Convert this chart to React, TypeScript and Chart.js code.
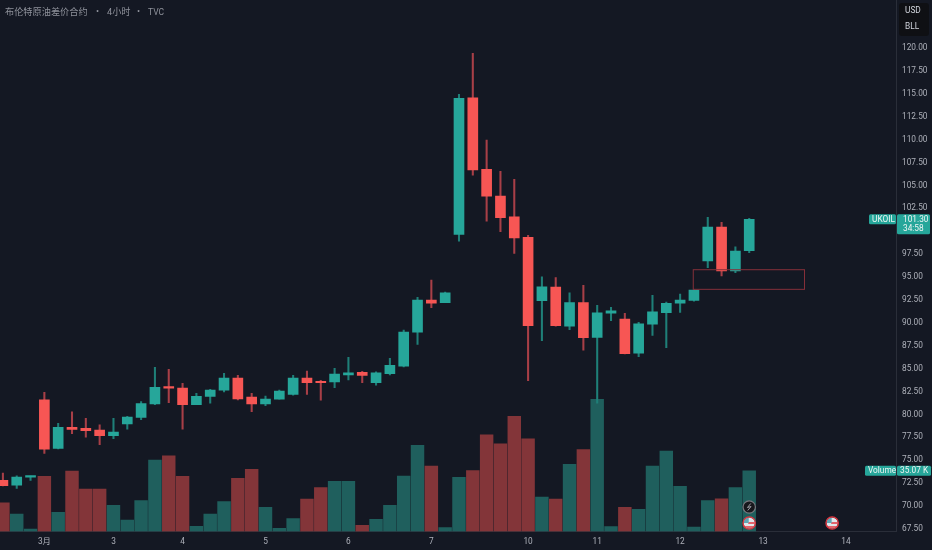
import React, { useEffect, useRef } from "react";
import { Chart, registerables } from "chart.js";

Chart.register(...registerables);

// Bars are numbered from the "3月" session; the first three sit before it.
const firstIndex = -3;
const opens = [72.81, 72.29, 73.17, 81.6, 76.3, 78.6, 78.48, 78.3, 77.68, 78.98, 79.68, 81.14, 82.96, 82.88, 81.06, 81.98, 82.66, 83.97, 81.9, 81.14, 81.68, 82.2, 83.97, 83.54, 83.54, 84.33, 84.6, 83.46, 84.45, 85.28, 88.99, 92.49, 92.2, 99.66, 114.57, 106.76, 103.84, 101.58, 99.33, 92.41, 93.91, 89.65, 92.2, 88.42, 91.07, 90.41, 86.7, 89.87, 91.1, 92.16, 92.46, 96.75, 100.46, 95.66, 97.87];
const closes = [72.22, 73.17, 73.28, 76.22, 78.6, 78.37, 78.22, 77.68, 78.08, 79.72, 81.2, 82.96, 82.88, 81.06, 81.98, 82.66, 83.97, 81.71, 81.14, 81.68, 82.55, 83.97, 83.46, 83.46, 84.41, 84.55, 84.27, 84.55, 85.36, 88.99, 92.49, 92.16, 93.29, 114.5, 106.68, 103.84, 101.47, 99.26, 89.68, 93.94, 89.68, 92.2, 88.38, 91.1, 91.32, 86.63, 89.9, 91.21, 92.13, 92.49, 93.58, 100.46, 95.66, 97.84, 101.3];
const highs = [73.6, 73.3, 73.28, 82.41, 79.03, 80.3, 79.57, 78.88, 79.57, 79.8, 81.4, 85.14, 84.92, 83.4, 82.3, 82.74, 84.48, 84.27, 82.3, 82.0, 82.66, 84.27, 84.74, 83.72, 85.03, 86.23, 84.7, 84.66, 86.12, 89.2, 92.8, 94.67, 93.36, 114.95, 119.42, 109.96, 106.54, 105.66, 99.55, 95.03, 94.93, 93.29, 94.1, 91.91, 91.69, 91.04, 90.05, 93.0, 92.27, 93.14, 93.6, 101.52, 100.97, 98.31, 101.41];
const lows = [72.2, 71.93, 72.8, 75.75, 76.25, 77.9, 77.53, 76.7, 77.35, 78.4, 79.42, 81.06, 81.28, 78.4, 81.06, 81.24, 82.47, 81.6, 80.3, 80.95, 81.68, 82.1, 82.2, 81.57, 82.92, 83.76, 83.46, 83.2, 84.33, 85.2, 87.65, 91.65, 92.2, 98.93, 106.13, 101.11, 99.95, 97.59, 83.68, 88.05, 89.65, 89.25, 87.03, 81.24, 90.23, 86.6, 86.3, 88.64, 87.28, 91.15, 92.38, 96.03, 95.11, 95.47, 97.65];
const volumes = [16.6, 10.1, 1.44, 31.8, 11.1, 34.9, 24.5, 24.5, 15.1, 6.6, 17.8, 41.2, 43.7, 31.8, 3.0, 10.1, 17.2, 30.7, 35.9, 14, 1.85, 7.4, 18.7, 25.3, 29, 29, 3.6, 7, 15.1, 32, 49.7, 37.8, 2.2, 31.3, 35.1, 55.8, 50.6, 66.4, 53.5, 19.9, 18.7, 38.8, 47.2, 76.3, 2.8, 14, 12.8, 37.8, 46.4, 26.1, 2.6, 17.8, 18.9, 25.3, 35.07];
const xTickPositions = [0, 5, 10, 16, 22, 28, 35, 40, 46, 52, 58];
const xTickLabels = ["3月", "3", "4", "5", "6", "7", "10", "11", "12", "13", "14"];
const priceTicks = [67.5, 70, 72.5, 75, 77.5, 80, 82.5, 85, 87.5, 90, 92.5, 95, 97.5, 100, 102.5, 105, 107.5, 110, 112.5, 115, 117.5, 120];
const zoneBars = [46.95, 55];
const zonePrices = [95.8, 93.66];
const lastPrice = 101.3;
const lastVolume = 35.07;
const eventBars = [51, 57];

const GREEN = "#26a69a";
const RED = "#f75654";
const BG = "#141823";
const TEXT = "#aeb1ba";
const FONT = "Roboto, 'Noto Sans CJK SC', sans-serif";

function flag(ctx: CanvasRenderingContext2D, cx: number, cy: number) {
  ctx.save();
  ctx.beginPath();
  ctx.arc(cx, cy, 5.6, 0, Math.PI * 2);
  ctx.save();
  ctx.clip();
  ctx.fillStyle = "#dfe6ea";
  ctx.fillRect(cx - 6, cy - 6, 12, 12);
  ctx.fillStyle = "#e2626a";
  ctx.fillRect(cx - 1, cy - 1, 7, 2);
  ctx.fillRect(cx - 6, cy + 3, 12, 2);
  ctx.fillStyle = "#5fa7b5";
  ctx.fillRect(cx - 6, cy - 6, 5.5, 6);
  ctx.restore();
  ctx.beginPath();
  ctx.arc(cx, cy, 6.2, 0, Math.PI * 2);
  ctx.strokeStyle = "#e5343f";
  ctx.lineWidth = 1.3;
  ctx.stroke();
  ctx.restore();
}

const overlay = {
  id: "overlay",
  afterDatasetsDraw(chart: any) {
    const { ctx, scales } = chart;
    const { x, y } = scales;
    ctx.save();
    // marked zone
    ctx.strokeStyle = "#86303a";
    ctx.lineWidth = 1;
    const zx0 = x.getPixelForValue(zoneBars[0]);
    const zx1 = x.getPixelForValue(zoneBars[1]);
    const zy0 = y.getPixelForValue(zonePrices[0]);
    const zy1 = y.getPixelForValue(zonePrices[1]);
    ctx.strokeRect(zx0, zy0, zx1 - zx0, zy1 - zy0);

    // events
    const bx = x.getPixelForValue(eventBars[0]);
    ctx.beginPath();
    ctx.arc(bx, 507, 6.2, 0, Math.PI * 2);
    ctx.fillStyle = "#17171c";
    ctx.fill();
    ctx.strokeStyle = "#77797f";
    ctx.lineWidth = 1.2;
    ctx.stroke();
    ctx.beginPath();
    ctx.moveTo(bx + 1.5, 503.5);
    ctx.lineTo(bx - 1.8, 507.5);
    ctx.lineTo(bx + 1.8, 506.5);
    ctx.lineTo(bx - 1.5, 510.5);
    ctx.strokeStyle = "#9a9ca3";
    ctx.lineWidth = 1;
    ctx.stroke();
    flag(ctx, bx, 523);
    flag(ctx, x.getPixelForValue(eventBars[1]), 523);

    ctx.textBaseline = "middle";
    ctx.textAlign = "left";
    // title
    ctx.fillStyle = "#8f929b";
    ctx.font = `9.2px ${FONT}`;
    ctx.fillText("布伦特原油差价合约", 5, 12.5);
    ctx.fillText("•", 96, 12);
    ctx.fillText("4小时", 107, 12.5);
    ctx.fillText("•", 137, 12);
    ctx.font = `8.5px ${FONT}`;
    ctx.fillText("TVC", 148, 12.5);

    // unit box
    ctx.fillStyle = "#0f1014";
    ctx.beginPath();
    ctx.roundRect(899, 3, 30, 33, 3);
    ctx.fill();
    ctx.fillStyle = "#d1d4dc";
    ctx.font = `8.3px ${FONT}`;
    ctx.fillText("USD", 905, 11);
    ctx.fillText("BLL", 905, 27);

    // price tags
    const py = y.getPixelForValue(lastPrice);
    ctx.fillStyle = GREEN;
    ctx.beginPath();
    ctx.roundRect(869, py - 5, 27, 10, 1.5);
    ctx.fill();
    ctx.beginPath();
    ctx.roundRect(897, py - 5, 33, 20, 1.5);
    ctx.fill();
    ctx.fillStyle = "#eef5f4";
    ctx.font = `8.3px ${FONT}`;
    ctx.fillText("UKOIL", 872, py + 0.5);
    ctx.fillText("101.30", 903, py + 0.5);
    ctx.fillText("34:58", 903, py + 10);

    // volume tags
    const vy = scales.vol.getPixelForValue(lastVolume);
    ctx.fillStyle = GREEN;
    ctx.beginPath();
    ctx.roundRect(865, vy - 5, 31, 10, 1.5);
    ctx.fill();
    ctx.beginPath();
    ctx.roundRect(897, vy - 5, 34, 10, 1.5);
    ctx.fill();
    ctx.fillStyle = "#eef5f4";
    ctx.fillText("Volume", 868, vy + 0.5);
    ctx.fillText("35.07 K", 900, vy + 0.5);
    ctx.restore();
  },
};

const noPadding = (s: any) => {
  s.paddingTop = 0;
  s.paddingBottom = 0;
  s.paddingLeft = 0;
  s.paddingRight = 0;
};

export default function App() {
  const ref = useRef<HTMLCanvasElement | null>(null);
  useEffect(() => {
    document.body.style.margin = "0";
    document.body.style.background = BG;
    const barX = (i: number) => i + firstIndex;
    const up = opens.map((o, i) => closes[i] >= o);
    const chart = new Chart(ref.current as HTMLCanvasElement, {
      type: "bar",
      data: {
        datasets: [
          {
            label: "Body",
            data: opens.map((o, i) => ({ x: barX(i), y: [o, closes[i]] })),
            backgroundColor: up.map((u) => (u ? GREEN : RED)),
            borderWidth: 0,
            barThickness: 10,
            minBarLength: 1.5,
            grouped: false,
            yAxisID: "y",
            order: 1,
          },
          {
            label: "Wick",
            data: lows.map((l, i) => ({ x: barX(i), y: [l, highs[i]] })),
            backgroundColor: up.map((u) => (u ? "#1f7f78" : "#a83f47")),
            borderWidth: 0,
            barThickness: 1.4,
            grouped: false,
            yAxisID: "y",
            order: 2,
          },
          {
            label: "Volume",
            data: volumes.map((v, i) => ({ x: barX(i), y: v })),
            backgroundColor: up.map((u) => (u ? "#1f5f5d" : "#833539")),
            borderWidth: 0,
            barThickness: 12.8,
            grouped: false,
            yAxisID: "vol",
            order: 3,
          },
        ] as any,
      },
      options: {
        responsive: false,
        animation: false,
        devicePixelRatio: 1,
        layout: { padding: 0 },
        plugins: { legend: { display: false }, tooltip: { enabled: false } },
        scales: {
          x: {
            type: "linear",
            offset: false,
            min: -3.21,
            max: 61.62,
            grid: { display: false, drawTicks: false },
            border: { display: true, color: "#2a2e39" },
            afterBuildTicks: (s: any) => {
              s.ticks = xTickPositions.map((value) => ({ value }));
            },
            afterFit: (s: any) => {
              s.height = 18.5;
              noPadding(s);
            },
            ticks: {
              color: TEXT,
              font: { size: 8.3, family: FONT },
              padding: 5.5,
              autoSkip: false,
              maxRotation: 0,
              callback: (v: any) => xTickLabels[xTickPositions.indexOf(Number(v))],
            },
          },
          y: {
            type: "linear",
            position: "right",
            min: 67.227,
            max: 125.24,
            grid: { display: false, drawTicks: false },
            border: { display: true, color: "#2a2e39" },
            afterBuildTicks: (s: any) => {
              s.ticks = priceTicks.map((value) => ({ value }));
            },
            afterFit: (s: any) => {
              s.width = 36;
              noPadding(s);
            },
            ticks: {
              color: TEXT,
              font: { size: 8.3, family: FONT },
              padding: 6,
              autoSkip: false,
              callback: (v: any) => Number(v).toFixed(2),
            },
          },
          vol: {
            type: "linear",
            display: false,
            min: 0,
            max: 306.6,
          },
        },
      } as any,
      plugins: [overlay],
    });
    return () => chart.destroy();
  }, []);
  return (
    <div style={{ position: "fixed", left: 0, top: 0, width: 932, height: 550, background: BG }}>
      <canvas ref={ref} width={932} height={550} style={{ display: "block" }} />
    </div>
  );
}
